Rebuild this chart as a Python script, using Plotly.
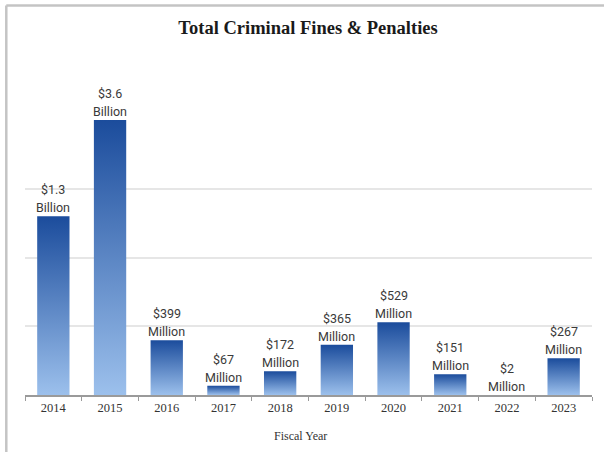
import plotly.graph_objects as go

years = ["2014", "2015", "2016", "2017", "2018", "2019", "2020", "2021", "2022", "2023"]
values_musd = [1300, 3600, 399, 67, 172, 365, 529, 151, 2, 267]
value_labels = ["$1.3", "$3.6", "$399", "$67", "$172", "$365", "$529", "$151", "$2", "$267"]
unit_labels = ["Billion", "Billion", "Million", "Million", "Million", "Million", "Million", "Million", "Million", "Million"]

Y_MAX = 2000  # axis ceiling (the 2015 bar is truncated, as in the original)
BAR_W = 0.57
LABEL_FONT = dict(family="Liberation Sans Narrow, Roboto, sans-serif", size=12.5, color="#3a3a3a")
SERIF = "Liberation Serif, serif"

fig = go.Figure()
for i, (yr, v) in enumerate(zip(years, values_musd)):
    h = min(v, Y_MAX)
    x0, x1 = i - BAR_W / 2, i + BAR_W / 2
    fig.add_trace(go.Scatter(
        x=[x0, x1, x1, x0, x0], y=[0, 0, h, h, 0],
        mode="lines", line=dict(width=0), fill="toself",
        fillgradient=dict(type="vertical",
                          colorscale=[[0, "#9cc0ec"], [1, "#1b4c9c"]]),
        hoverinfo="skip", showlegend=False,
    ))
    fig.add_annotation(
        x=i, y=h, xref="x", yref="y", yanchor="bottom", yshift=-1,
        text=unit_labels[i], showarrow=False, font=LABEL_FONT,
    )
    fig.add_annotation(
        x=i, y=h, xref="x", yref="y", yanchor="bottom", yshift=17,
        text=value_labels[i], showarrow=False, font=LABEL_FONT,
    )

fig.add_annotation(
    x=0.486, y=-0.15, xref="paper", yref="paper", xanchor="center", yanchor="middle",
    text="Fiscal Year", showarrow=False,
    font=dict(family=SERIF, size=12, color="#333333"),
)

fig.update_layout(
    width=604, height=452,
    margin=dict(l=25, r=12, t=120, b=57),
    paper_bgcolor="white", plot_bgcolor="white",
    title=dict(text="<b>Total Criminal Fines &amp; Penalties</b>", x=0.51, xanchor="center",
               y=0.94, yanchor="middle",
               font=dict(family=SERIF, size=18.5, color="#1a1a1a")),
    xaxis=dict(
        range=[-0.5, 9.5], tickvals=list(range(len(years))), ticktext=years,
        ticks="", showgrid=False, zeroline=False,
        showline=True, linecolor="#9a9a9a", linewidth=1.5,
        tickfont=dict(family=SERIF, size=12.5, color="#333333"),
        minor=dict(tickvals=[k - 0.5 for k in range(len(years) + 1)], ticks="outside",
                   ticklen=4, tickcolor="#9a9a9a", showgrid=False),
    ),
    yaxis=dict(
        range=[0, Y_MAX], dtick=500, showticklabels=False, ticks="",
        showgrid=True, gridcolor="#e6e6e6", gridwidth=1.5, zeroline=False,
    ),
    shapes=[
        dict(type="line", xref="paper", yref="paper", x0=-0.033, x1=1.03, y0=1.416, y1=1.416,
             line=dict(color="#c4c4c4", width=2.5)),
        dict(type="line", xref="paper", yref="paper", x0=-0.033, x1=-0.033, y0=-0.21, y1=1.416,
             line=dict(color="#c4c4c4", width=2.5)),
    ],
)

fig.write_html("out.html", config={"displayModeBar": False},
               post_script="document.body.style.margin='0';")
